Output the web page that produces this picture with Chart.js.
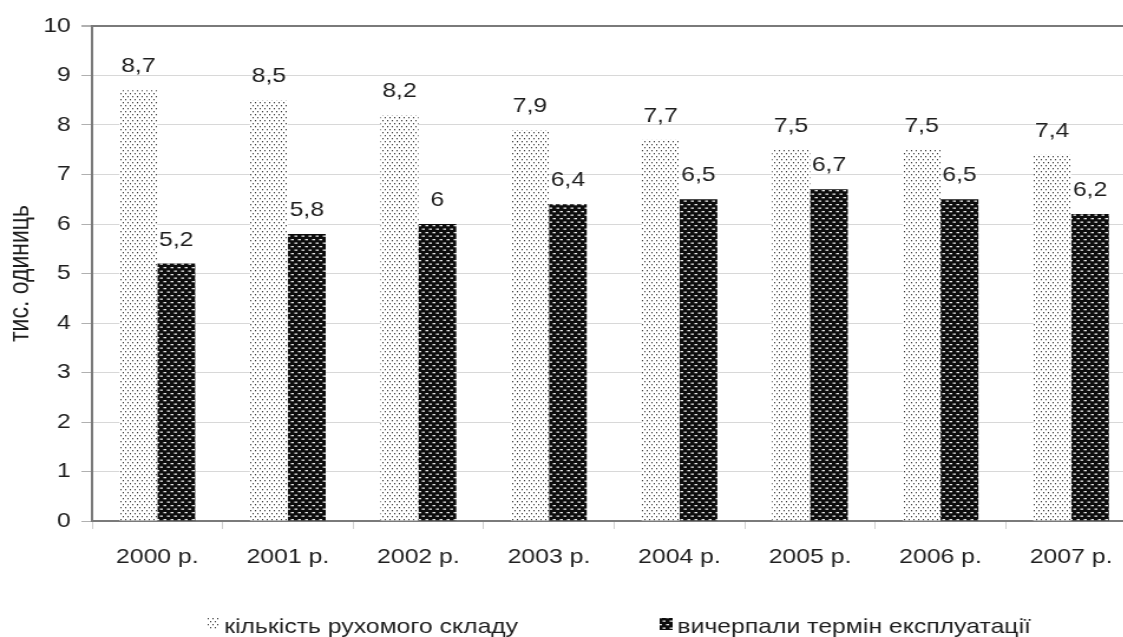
<!DOCTYPE html>
<html lang="uk">
<head>
    <meta charset="UTF-8">
    <title>Рухомий склад</title>
    <script src="https://cdn.jsdelivr.net/npm/chart.js"></script>
    <style>
        html, body { margin: 0; padding: 0; background: #fff; overflow: hidden; }
        /* оригінал трохи розтягнутий по горизонталі */
        #wrap { width: 966px; height: 637px; transform: scaleX(1.18); transform-origin: 0 0; }
    </style>
</head>
<body>
<div id="wrap"><canvas id="chart" width="966" height="637"></canvas></div>
<script>
    // дані з рисунка
    const years = ['2000 р.', '2001 р.', '2002 р.', '2003 р.', '2004 р.', '2005 р.', '2006 р.', '2007 р.'];
    const total = [8.7, 8.5, 8.2, 7.9, 7.7, 7.5, 7.5, 7.4];
    const wornOut = [5.2, 5.8, 6, 6.4, 6.5, 6.7, 6.5, 6.2];
    const seriesNames = ['кількість рухомого складу', 'вичерпали термін експлуатації'];
    const yTitle = 'тис. одиниць';

    const FONT = '"Liberation Sans", Arial, sans-serif';
    const TEXT = '#1e1e1e';

    // штрихування стовпців
    function dotPattern() {
        const c = document.createElement('canvas');
        c.width = 4; c.height = 6;
        const g = c.getContext('2d');
        g.fillStyle = '#fff';
        g.fillRect(0, 0, 4, 6);
        g.fillStyle = '#3a3a3a';
        g.fillRect(0, 0, 1, 1.3);
        g.fillRect(2, 3, 1, 1.3);
        return g.createPattern(c, 'repeat');
    }
    function darkPattern() {
        const c = document.createElement('canvas');
        c.width = 6; c.height = 7;
        const g = c.getContext('2d');
        g.fillStyle = '#0d0d0d';
        g.fillRect(0, 0, 6, 7);
        g.fillStyle = '#e8e8e8';
        g.fillRect(0.5, 1, 2.5, 1.3);
        g.fillRect(3.5, 4.5, 2.5, 1.3);
        return g.createPattern(c, 'repeat');
    }
    const patterns = [dotPattern(), darkPattern()];

    const fmt = v => String(v).replace('.', ',');

    // підписи значень над стовпцями
    const valueLabels = {
        id: 'valueLabels',
        afterDatasetsDraw(chart) {
            const ctx = chart.ctx;
            ctx.save();
            ctx.font = '21px ' + FONT;
            ctx.fillStyle = TEXT;
            ctx.textAlign = 'center';
            ctx.textBaseline = 'alphabetic';
            chart.data.datasets.forEach((ds, i) => {
                chart.getDatasetMeta(i).data.forEach((bar, j) => {
                    ctx.fillText(fmt(ds.data[j]), bar.x, bar.y - 18);
                });
            });
            ctx.restore();
        }
    };

    // легенда внизу
    const bottomLegend = {
        id: 'bottomLegend',
        afterDraw(chart) {
            const ctx = chart.ctx;
            const startX = [175, 559];
            const baseline = 633;
            ctx.save();
            ctx.font = '21px ' + FONT;
            ctx.textBaseline = 'alphabetic';
            chart.data.datasets.forEach((ds, i) => {
                ctx.fillStyle = ds.backgroundColor;
                ctx.fillRect(startX[i], baseline - 15, 11, 12);
                ctx.fillStyle = TEXT;
                ctx.fillText(ds.label, startX[i] + 15, baseline);
            });
            ctx.restore();
        }
    };

    const ctx = document.getElementById('chart').getContext('2d');
    new Chart(ctx, {
        type: 'bar',
        data: {
            labels: years,
            datasets: [
                { label: seriesNames[0], data: total, backgroundColor: patterns[0] },
                { label: seriesNames[1], data: wornOut, backgroundColor: patterns[1] }
            ]
        },
        options: {
            responsive: false,
            animation: false,
            layout: { padding: { left: 0, top: 26, right: 3, bottom: 66 } },
            datasets: { bar: { categoryPercentage: 0.58, barPercentage: 1, borderWidth: 0 } },
            plugins: {
                legend: { display: false },
                tooltip: { enabled: false }
            },
            scales: {
                x: {
                    afterFit(scale) { scale.height = 50; },
                    grid: {
                        offset: true,
                        drawOnChartArea: false,
                        tickLength: 8,
                        tickColor: '#cfcfcf'
                    },
                    border: { color: '#7a7a7a', width: 2 },
                    ticks: {
                        color: TEXT,
                        padding: 16,
                        font: { family: FONT, size: 21 }
                    }
                },
                y: {
                    min: 0,
                    max: 10,
                    afterFit(scale) { scale.width = 78; },
                    grid: {
                        color: c => c.tick && c.tick.value === 10 ? '#7a7a7a' : '#d8d8d8',
                        lineWidth: c => c.tick && c.tick.value === 10 ? 2 : 1,
                        tickLength: 9,
                        tickColor: '#b0b0b0'
                    },
                    border: { color: '#7a7a7a', width: 2 },
                    ticks: {
                        stepSize: 1,
                        color: TEXT,
                        padding: 9,
                        font: { family: FONT, size: 21 }
                    },
                    title: {
                        display: true,
                        text: yTitle,
                        color: TEXT,
                        padding: { top: 4, bottom: 0 },
                        font: { family: FONT, size: 23 }
                    }
                }
            }
        },
        plugins: [valueLabels, bottomLegend]
    });
</script>
</body>
</html>
